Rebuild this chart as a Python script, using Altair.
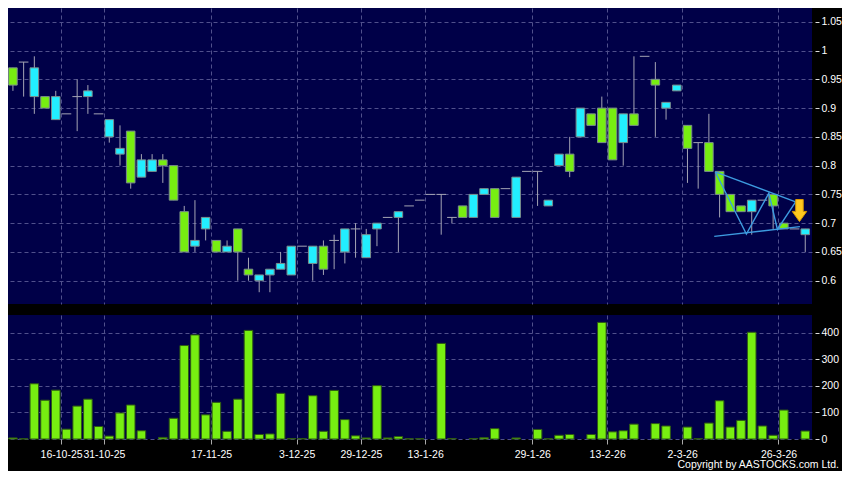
import altair as alt
import pandas as pd
import numpy as np

# ---- data ----
opens = [0.97, 0.98, 0.92, 0.92, 0.88, 0.89, 0.92, 0.92, 0.89, 0.85,
         0.82, 0.86, 0.78, 0.79, 0.81, 0.80, 0.72, 0.66, 0.69, 0.67,
         0.65, 0.69, 0.62, 0.60, 0.61, 0.62, 0.61, 0.66, 0.63, 0.66,
         0.67, 0.65, 0.69, 0.64, 0.69, 0.71, 0.71, 0.73, 0.74, 0.75,
         0.75, 0.71, 0.73, 0.71, 0.75, 0.76, 0.76, 0.71, 0.79, 0.79,
         0.73, 0.80, 0.82, 0.85, 0.89, 0.90, 0.90, 0.84, 0.89, 0.99,
         0.95, 0.90, 0.93, 0.87, 0.84, 0.84, 0.79, 0.75, 0.73, 0.72,
         0.74, 0.75, 0.70, 0.69, 0.68]
highs = [0.97, 0.98, 0.99, 0.92, 0.93, 0.89, 0.95, 0.94, 0.89, 0.88,
         0.87, 0.86, 0.82, 0.82, 0.82, 0.80, 0.73, 0.74, 0.71, 0.67,
         0.67, 0.69, 0.64, 0.61, 0.62, 0.65, 0.66, 0.66, 0.66, 0.67,
         0.68, 0.69, 0.70, 0.69, 0.70, 0.71, 0.72, 0.73, 0.74, 0.75,
         0.75, 0.71, 0.73, 0.75, 0.76, 0.76, 0.76, 0.78, 0.79, 0.79,
         0.74, 0.82, 0.85, 0.90, 0.89, 0.92, 0.90, 0.89, 0.99, 0.99,
         0.98, 0.91, 0.94, 0.87, 0.84, 0.89, 0.79, 0.75, 0.73, 0.74,
         0.74, 0.75, 0.70, 0.69, 0.69]
lows = [0.93, 0.92, 0.89, 0.90, 0.88, 0.89, 0.86, 0.89, 0.89, 0.84,
        0.80, 0.76, 0.78, 0.79, 0.77, 0.74, 0.65, 0.65, 0.67, 0.65,
        0.65, 0.60, 0.60, 0.58, 0.58, 0.62, 0.61, 0.66, 0.60, 0.61,
        0.62, 0.63, 0.64, 0.64, 0.66, 0.71, 0.65, 0.73, 0.74, 0.75,
        0.68, 0.70, 0.71, 0.71, 0.75, 0.71, 0.76, 0.71, 0.79, 0.73,
        0.73, 0.80, 0.78, 0.85, 0.87, 0.84, 0.81, 0.80, 0.87, 0.99,
        0.85, 0.88, 0.93, 0.77, 0.76, 0.79, 0.71, 0.72, 0.72, 0.68,
        0.74, 0.69, 0.69, 0.69, 0.65]
closes = [0.94, 0.98, 0.97, 0.90, 0.92, 0.89, 0.92, 0.93, 0.89, 0.88,
          0.83, 0.77, 0.81, 0.81, 0.80, 0.74, 0.65, 0.67, 0.71, 0.65,
          0.66, 0.65, 0.61, 0.61, 0.62, 0.63, 0.66, 0.66, 0.66, 0.62,
          0.67, 0.69, 0.69, 0.68, 0.70, 0.71, 0.72, 0.73, 0.74, 0.75,
          0.75, 0.71, 0.71, 0.75, 0.76, 0.71, 0.76, 0.78, 0.79, 0.79,
          0.74, 0.82, 0.79, 0.90, 0.87, 0.84, 0.81, 0.89, 0.87, 0.99,
          0.94, 0.91, 0.94, 0.83, 0.84, 0.79, 0.75, 0.72, 0.72, 0.74,
          0.74, 0.73, 0.69, 0.69, 0.69]
volumes = [4, 1, 208, 146, 184, 37, 124, 150, 47, 11,
           98, 128, 31, 0, 6, 78, 352, 392, 91, 138,
           29, 150, 409, 17, 19, 172, 2, 2, 163, 29,
           183, 73, 12, 4, 201, 4, 9, 1, 1, 0,
           360, 2, 0, 2, 5, 39, 0, 4, 0, 36,
           1, 14, 17, 0, 17, 439, 27, 31, 56, 0,
           58, 49, 0, 45, 1, 60, 144, 45, 70, 402,
           49, 14, 109, 0, 30]

tick_pos = [4.5, 8.5, 18.5, 26.5, 32.5, 38.5, 48.5, 55.5, 62.5, 71.5]
tick_labels = ["16-10-25", "31-10-25", "17-11-25", "3-12-25", "29-12-25",
               "13-1-26", "29-1-26", "13-2-26", "2-3-26", "26-3-26"]
price_ticks = [0.6, 0.65, 0.7, 0.75, 0.8, 0.85, 0.9, 0.95, 1.0, 1.05]
price_tick_labels = ["0.6", "0.65", "0.7", "0.75", "0.8", "0.85", "0.9", "0.95", "1", "1.05"]
vol_ticks = [0, 100, 200, 300, 400]

# triangle pattern annotation (index, price)
pat_group = ["upper", "upper", "lower", "lower", "zig", "zig", "zig", "zig", "zig"]
pat_idx = [65.6, 73.1, 65.5, 73.5, 65.6, 68.5, 70.6, 71.4, 73.1]
pat_val = [0.789, 0.737, 0.677, 0.694, 0.789, 0.681, 0.752, 0.689, 0.737]
arrow_idx = [73.46]
arrow_val = [0.722]
copyright = ["Copyright by AASTOCKS.com Ltd."]

# ---- style ----
W, H1, H2 = 804, 296, 124
NAVY = "#000048"
GRID = "#50508c"
GREEN = "#77ee11"
CYAN = "#22eeff"
WICK = "#a4a4b4"
FONT = "Liberation Sans"
FS = 10.5

n = len(opens)
df = pd.DataFrame({"i": np.arange(n), "o": opens, "h": highs, "l": lows,
                   "c": closes, "v": volumes})
df["x0"] = df["i"] - 0.4
df["x1"] = df["i"] + 0.4
df["d0"] = df["i"] - 0.45
df["d1"] = df["i"] + 0.45
df["dir"] = np.where(df["c"] > df["o"], "up", np.where(df["c"] < df["o"], "down", "flat"))

xs = alt.Scale(domain=[-0.46, 74.63], nice=False, zero=False)
ys = alt.Scale(domain=[0.5595, 1.074], nice=False, zero=False)
vs = alt.Scale(domain=[0, 467], nice=False, zero=False)

label_map = "{" + ",".join(f"'{p}':'{l}'" for p, l in zip(tick_pos, tick_labels)) + "}"
plabel_map = "{" + ",".join(f"'{p:.2f}':'{l}'" for p, l in zip(price_ticks, price_tick_labels)) + "}"

x_grid_axis = alt.Axis(values=tick_pos, grid=True, labels=False, ticks=False, domain=False,
                       gridColor=GRID, gridDash=[4, 3], gridWidth=1, title=None)
y_price_axis = alt.Axis(orient="right", values=price_ticks, tickCount=len(price_ticks),
                        grid=True, gridColor=GRID,
                        gridDash=[4, 3], domain=False, ticks=True, tickColor="#dddddd",
                        tickSize=4, offset=3, labelPadding=2, labelColor="white",
                        labelFont=FONT, labelFontSize=FS, labelOverlap=False,
                        labelFlush=False,
                        labelExpr=plabel_map + "[format(datum.value, '.2f')]",
                        title=None)


def PX(field):
    return alt.X(field, scale=xs, axis=x_grid_axis, title=None)


def PY(field):
    return alt.Y(field, scale=ys, axis=y_price_axis, title=None)


base = alt.Chart(df)
wicks = base.mark_rule(color=WICK, strokeWidth=1).encode(
    x=PX("i:Q"), y=PY("l:Q"), y2="h:Q",
)
bodies = base.transform_filter("datum.o != datum.c").mark_bar(
    stroke="#7a8c8c", strokeWidth=1).encode(
    x=PX("x0:Q"), x2="x1:Q", y=PY("o:Q"), y2="c:Q",
    color=alt.Color("dir:N", scale=alt.Scale(domain=["up", "down"], range=[CYAN, GREEN]),
                    legend=None),
)
dashes = base.transform_filter("datum.o == datum.c").mark_rule(
    color=WICK, strokeWidth=1).encode(
    x=PX("d0:Q"), x2="d1:Q", y=PY("c:Q"),
)
pat_df = pd.DataFrame({"g": pat_group, "i": pat_idx, "v": pat_val, "k": range(len(pat_idx))})
pattern = alt.Chart(pat_df).mark_line(color="#3d9be0", strokeWidth=1.4).encode(
    x=PX("i:Q"), y=PY("v:Q"), detail="g:N", order="k:Q",
)
arrow_df = pd.DataFrame({"i": arrow_idx, "v": arrow_val})
arrow = alt.Chart(arrow_df).mark_point(
    shape="M-0.34,-1L0.34,-1L0.34,0.08L0.66,0.08L0,1L-0.66,0.08L-0.34,0.08Z",
    size=484, filled=True, fill="#ffc81e", stroke="#d99a00", strokeWidth=1, opacity=1,
).encode(
    x=PX("i:Q"), y=PY("v:Q"),
)

price = alt.layer(wicks, bodies, dashes, pattern, arrow).properties(width=W, height=H1)

x_label_axis = alt.Axis(values=tick_pos, grid=True, gridColor=GRID, gridDash=[4, 3],
                        labels=True, ticks=True, tickColor="#aaaaaa", tickSize=5,
                        domain=False, labelColor="white", labelFont=FONT, labelFontSize=FS,
                        labelPadding=5, labelOverlap=False, labelFlush=False,
                        labelExpr=label_map + "[datum.value]", title=None)
y_vol_axis = alt.Axis(orient="right", values=vol_ticks, grid=True, gridColor=GRID,
                      gridDash=[4, 3], domain=False, ticks=True, tickColor="#dddddd",
                      tickSize=4, offset=3, labelPadding=2, labelColor="white",
                      labelFont=FONT, labelFontSize=FS, labelOverlap=False,
                      labelFlush=False, title=None)

vbars = base.transform_filter("datum.v > 0").mark_bar(
    fill=GREEN, stroke="#2f5a14", strokeWidth=1).encode(
    x=alt.X("x0:Q", scale=xs, axis=x_label_axis, title=None),
    x2="x1:Q",
    y=alt.Y("v:Q", scale=vs, axis=y_vol_axis, title=None),
    y2=alt.datum(0),
)
copy_text = alt.Chart(pd.DataFrame({"t": copyright})).mark_text(
    align="right", baseline="alphabetic", font=FONT, fontSize=FS, color="white",
).encode(
    text="t:N",
    x=alt.value(W + 27),
    y=alt.value(H2 + 29),
)
volume = alt.layer(vbars, copy_text).properties(width=W, height=H2)

chart = alt.vconcat(price, volume, spacing=11).properties(
    padding=0, background="black"
).configure_view(fill=NAVY, stroke=None).configure_axis(labelLimit=200)

chart.save("out.html", embed_options={"renderer": "svg", "actions": False})
